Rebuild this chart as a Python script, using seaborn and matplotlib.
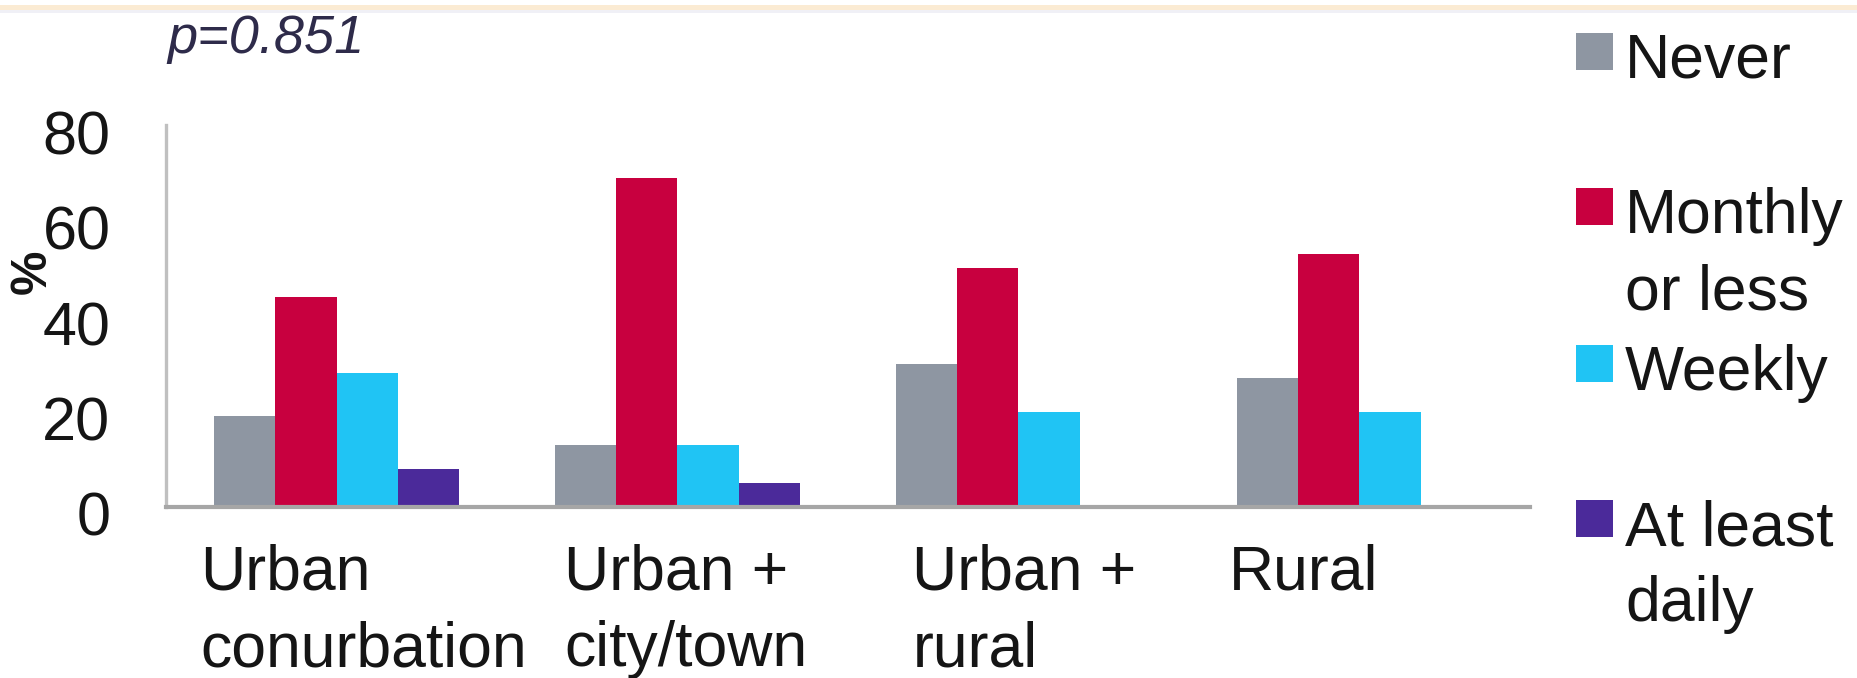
import numpy as np
import pandas as pd
import matplotlib
matplotlib.use("Agg")
import matplotlib.pyplot as plt
from matplotlib.patches import Rectangle
from matplotlib.transforms import ScaledTranslation
import seaborn as sns

# ---- data -------------------------------------------------------------
areas = ["Urban\nconurbation", "Urban +\ncity/town", "Urban +\nrural", "Rural"]
frequencies = ["Never", "Monthly\nor less", "Weekly", "At least\ndaily"]
never = [19, 13, 30, 27]
monthly_or_less = [44, 69, 50, 53]
weekly = [28, 13, 20, 20]
at_least_daily = [8, 5, 0, 0]
y_ticks = [0, 20, 40, 60, 80]
p_value_label = "p=0.851"

# ---- style ------------------------------------------------------------
colors = ["#8E96A2", "#C8003F", "#20C4F4", "#4B2A9A"]
text_color = "#151515"
W, H, DPI = 1857, 678, 100

sns.set_theme(style="white")
plt.rcParams["font.family"] = ["Liberation Sans", "DejaVu Sans"]

rows = []
for name, vals in zip(frequencies, [never, monthly_or_less, weekly, at_least_daily]):
    for area, v in zip(areas, vals):
        rows.append({"area": area, "frequency": name, "pct": v})
df = pd.DataFrame(rows)

fig = plt.figure(figsize=(W / DPI, H / DPI), dpi=DPI)
fig.patch.set_facecolor("white")
ax = fig.add_axes([166 / W, 1 - 507 / H, (1530 - 166) / W, (507 - 125) / H])

sns.barplot(
    data=df, x="area", y="pct", hue="frequency",
    order=areas, hue_order=frequencies, palette=colors,
    width=0.72, saturation=1, linewidth=0, errorbar=None,
    legend=False, ax=ax,
)

ax.set_xlim(-0.5, 3.5)
ax.set_ylim(0, 80)
ax.set_yticks(y_ticks)
ax.set_xlabel("")
ax.set_ylabel("")
ax.set_facecolor("white")

for side in ("top", "right"):
    ax.spines[side].set_visible(False)
ax.spines["left"].set_color("#C0C0C0")
ax.spines["left"].set_linewidth(2.4)
ax.spines["bottom"].set_color("#A6A6A6")
ax.spines["bottom"].set_linewidth(3.0)

ax.tick_params(axis="y", length=0, labelsize=44, pad=40, labelcolor=text_color)
ax.tick_params(axis="x", length=0, labelsize=45, pad=26.5, labelcolor=text_color)

# y tick labels sit a little below their gridline value
for lbl in ax.get_yticklabels():
    lbl.set_transform(lbl.get_transform() + ScaledTranslation(0, -7 / DPI, fig.dpi_scale_trans))

# category labels: left-aligned text blocks under each group
x_label_dx = [-136, -113, -106, -131]
for lbl, dx in zip(ax.get_xticklabels(), x_label_dx):
    lbl.set_ha("left")
    lbl.set_va("top")
    lbl.set_linespacing(1.38)
    lbl.set_transform(lbl.get_transform() + ScaledTranslation(dx / DPI, 0, fig.dpi_scale_trans))

# axis unit
fig.text(33 / W, 1 - 272 / H, "%", rotation=90, fontsize=36, fontweight="bold",
         ha="center", va="center", color=text_color)

# significance note
fig.text(167 / W, 1 - 53 / H, p_value_label, fontsize=39, style="italic",
         color="#2E2B4A", va="baseline", ha="left")

# legend: swatch aligned with the first line of each label
cap_tops = [33, 188, 345, 500]
for name, col, top in zip(frequencies, colors, cap_tops):
    fig.add_artist(Rectangle((1576 / W, 1 - (top + 37) / H), 37 / W, 37 / H,
                             transform=fig.transFigure, facecolor=col, edgecolor="none"))
    fig.text(1625 / W, 1 - (top - 1) / H, name, fontsize=45, ha="left", va="top",
             linespacing=1.38, color=text_color)

# thin decorative band along the top edge
fig.add_artist(Rectangle((0, 1 - 10 / H), 1, 5 / H, transform=fig.transFigure,
                         facecolor="#FBEBD3", edgecolor="none"))
fig.add_artist(Rectangle((0, 1 - 13 / H), 1, 3 / H, transform=fig.transFigure,
                         facecolor="#F0F0F6", edgecolor="none"))

fig.savefig("out.png", dpi=DPI)
